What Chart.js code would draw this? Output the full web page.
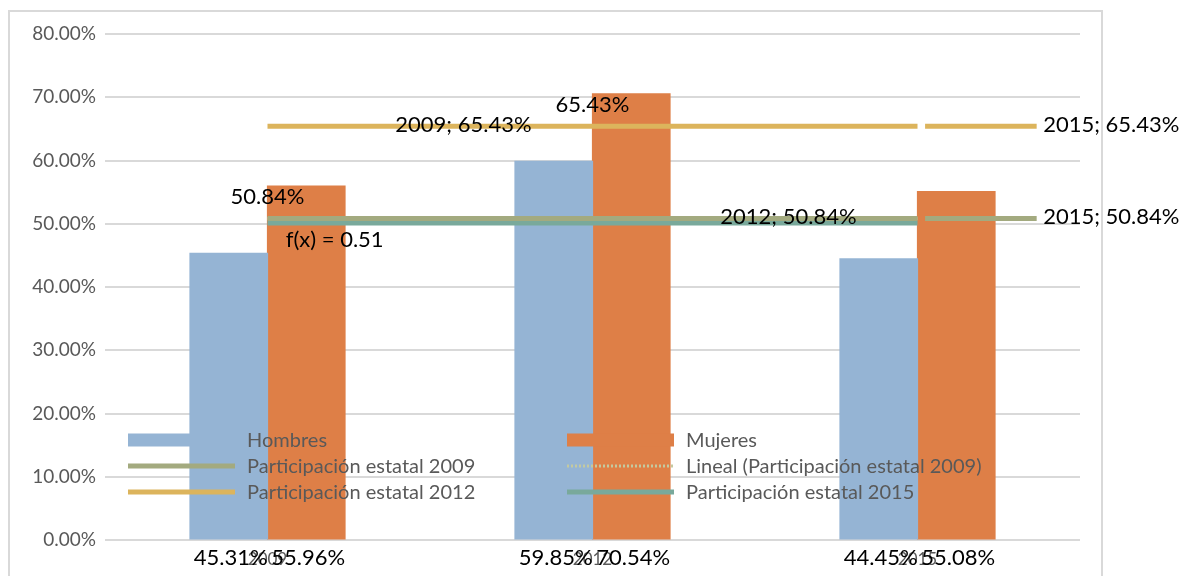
<!DOCTYPE html>
<html>
<head>
<meta charset="utf-8">
<script src="https://cdn.jsdelivr.net/npm/chart.js@4.4.0/dist/chart.umd.min.js"></script>
<style>
    html, body { margin: 0; padding: 0; background: #fff; }
    #frame { position: absolute; left: 8px; top: 10px; width: 1091px; height: 620px; border: 2px solid #d9d9d9; }
    #wrap { position: absolute; left: 0; top: 0; width: 1190px; height: 576px; }
</style>
</head>
<body>
<div id="frame"></div>
<div id="wrap"><canvas id="chart" width="1190" height="576"></canvas></div>
<script>
// Datos
const years = [2009, 2012, 2015];
const hombres = [45.31, 59.85, 44.45];
const mujeres = [55.96, 70.54, 55.08];
const estatal2009 = [50.84, 50.84, 50.84];
const lineal2009 = [50.84, 50.84, 50.84];
const estatal2012 = [65.43, 65.43, 65.43];
const estatal2015 = [50.12, 50.12, 50.12];
// tramos cortos que salen a la derecha del punto 2015
const stubYears = [2015.07, 2016.1];
const stub2009 = [50.84, 50.84];
const stub2012 = [65.43, 65.43];
const yTicks = [0, 10, 20, 30, 40, 50, 60, 70, 80];

// etiquetas de datos sueltas (año, valor, texto, alineación)
const lineLabelText = ['50.84%', 'f(x) = 0.51', '2009; 65.43%', '65.43%', '2012; 50.84%', '2015; 65.43%', '2015; 50.84%'];
const lineLabelYear = [2009, 2009.62, 2010.18, 2012, 2013.18, 2016.16, 2016.16];
const lineLabelValue = [54.2, 47.4, 65.6, 68.8, 51.1, 65.6, 51.1];
const lineLabelAlign = ['center', 'center', 'left', 'center', 'left', 'left', 'left'];

const FONT = 'Lato, "Open Sans", sans-serif';
const GREY = '#595959';

const pts = (xs, ys) => xs.map((x, i) => ({ x: x, y: ys[i] }));

function lineSet(label, data, color, order, extra) {
    return Object.assign({
        type: 'line', label: label, data: data,
        borderColor: color, backgroundColor: color, borderWidth: 5,
        pointRadius: 0, fill: false, order: order, inLegend: true
    }, extra || {});
}

// Leyenda dentro del área de trazado, en dos columnas
const legendPlugin = {
    id: 'inLegend',
    afterDatasetsDraw(chart) {
        const ctx = chart.ctx, a = chart.chartArea;
        const items = chart.data.datasets.filter(d => d.inLegend);
        ctx.save();
        ctx.font = '20px ' + FONT;
        ctx.textBaseline = 'middle';
        ctx.textAlign = 'left';
        items.forEach((d, i) => {
            const col = i % 2, row = Math.floor(i / 2);
            const sx = a.left + (col ? 462 : 23);
            const cy = a.bottom - 100 + row * 26;
            if (d.type === 'bar') {
                ctx.fillStyle = d.backgroundColor;
                ctx.fillRect(sx, cy - 6.5, 107, 13);
            } else {
                ctx.strokeStyle = d.borderColor;
                ctx.lineWidth = d.borderDash ? 3 : 5;
                ctx.setLineDash(d.borderDash || []);
                ctx.beginPath();
                ctx.moveTo(sx, cy);
                ctx.lineTo(sx + 107, cy);
                ctx.stroke();
                ctx.setLineDash([]);
            }
            ctx.fillStyle = GREY;
            ctx.fillText(d.label, sx + 119, cy + 1);
        });
        ctx.restore();
    }
};

// Etiquetas de datos
const labelPlugin = {
    id: 'dataLabels',
    afterDraw(chart) {
        const ctx = chart.ctx, a = chart.chartArea;
        const x = chart.scales.x, y = chart.scales.y;
        ctx.save();
        ctx.font = '22px ' + FONT;
        ctx.fillStyle = '#000';
        ctx.textBaseline = 'middle';
        // valores de barras debajo del eje
        chart.data.datasets.forEach((d, di) => {
            if (d.type !== 'bar') return;
            chart.getDatasetMeta(di).data.forEach((bar, i) => {
                ctx.textAlign = 'center';
                ctx.fillText(d.data[i].y.toFixed(2) + '%', bar.x + 2, a.bottom + 18);
            });
        });
        lineLabelText.forEach((t, i) => {
            ctx.textAlign = lineLabelAlign[i];
            ctx.fillText(t, x.getPixelForValue(lineLabelYear[i]), y.getPixelForValue(lineLabelValue[i]));
        });
        ctx.restore();
    }
};

new Chart(document.getElementById('chart'), {
    type: 'bar',
    data: {
        datasets: [
            { type: 'bar', label: 'Hombres', data: pts(years, hombres), backgroundColor: '#95b4d4', order: 5, inLegend: true },
            { type: 'bar', label: 'Mujeres', data: pts(years, mujeres), backgroundColor: '#de7f47', order: 5, inLegend: true },
            lineSet('Participación estatal 2009', pts(years, estatal2009), '#a3aa7f', 1),
            lineSet('Lineal (Participación estatal 2009)', pts(years, lineal2009), '#c4c9a0', 3, { borderWidth: 3, borderDash: [2, 2] }),
            lineSet('Participación estatal 2012', pts(years, estatal2012), '#dcb45c', 1),
            lineSet('Participación estatal 2015', pts(years, estatal2015), '#79a99b', 2),
            lineSet('stub 2009', pts(stubYears, stub2009), '#a3aa7f', 0, { inLegend: false }),
            lineSet('stub 2012', pts(stubYears, stub2012), '#dcb45c', 0, { inLegend: false })
        ]
    },
    options: {
        responsive: false,
        animation: false,
        devicePixelRatio: 1,
        layout: { padding: { left: 0, right: 110, top: 34, bottom: 0 } },
        datasets: { bar: { categoryPercentage: 0.477, barPercentage: 1, inflateAmount: 0.6 } },
        plugins: { legend: { display: false }, tooltip: { enabled: false } },
        scales: {
            x: {
                type: 'linear',
                min: 2007.5, max: 2016.5,
                offset: false,
                afterBuildTicks: s => { s.ticks = years.map(v => ({ value: v })); },
                grid: { display: false, drawTicks: false },
                border: { display: false },
                ticks: { color: GREY, font: { family: FONT, size: 17 }, padding: 9, callback: v => String(v) },
                afterFit: s => { s.height = 36; }
            },
            y: {
                min: 0, max: 80,
                afterBuildTicks: s => { s.ticks = yTicks.map(v => ({ value: v })); },
                grid: { color: '#d9d9d9', lineWidth: 2, drawTicks: false },
                border: { display: false },
                ticks: { color: GREY, font: { family: FONT, size: 19 }, padding: 9, callback: v => v.toFixed(2) + '%' },
                afterFit: s => { s.width = 105; }
            }
        }
    },
    plugins: [legendPlugin, labelPlugin]
});
</script>
</body>
</html>
